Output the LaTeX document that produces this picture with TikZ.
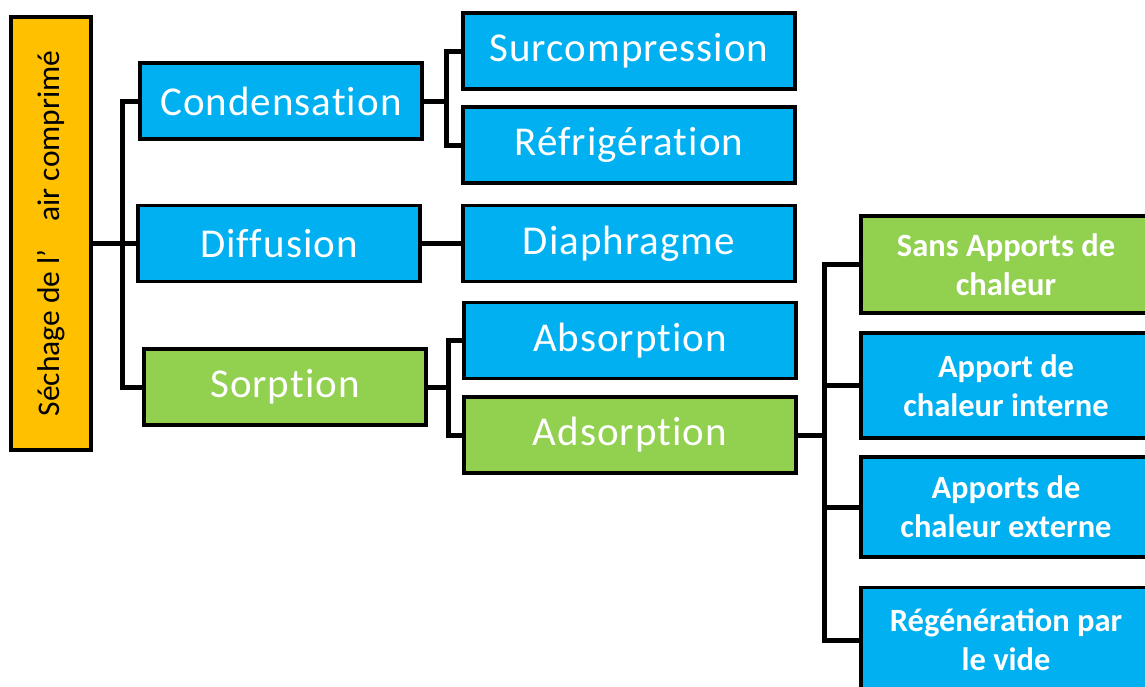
\documentclass[tikz,border=0pt]{standalone}
\usepackage{fontspec}
\setmainfont{Carlito}
\newfontfamily\wordart[LetterSpace=2.5, Ligatures=NoCommon]{Carlito}
\usetikzlibrary{positioning, calc}
\definecolor{skyblue}{HTML}{00B0F0}
\definecolor{leafgreen}{HTML}{92D050}
\definecolor{amber}{HTML}{FFC000}

\begin{document}
\begin{tikzpicture}[x=1pt, y=-1pt,
  box/.style={draw=black, line width=3.5pt, inner sep=0pt, text=white, align=center},
  bigbox/.style={box, minimum width=282pt, minimum height=76pt, font=\wordart\fontsize{41}{48}\selectfont},
  midbox/.style={box, minimum width=332pt, minimum height=76pt, font=\wordart\fontsize{41}{48}\selectfont},
  sidebox/.style={box, minimum width=290pt, font=\bfseries\fontsize{32.5}{39}\selectfont},
  link/.style={line width=5pt}]
\clip (0,0) rectangle (1145,686);
\fill[white] (0,0) rectangle (1145,686);

\node[box, fill=amber, text=black, minimum width=80pt, minimum height=433pt,
  font=\fontsize{31.5}{36}\selectfont] (root) at (51,233.5)
  {\rotatebox{90}{Séchage de l’\hspace{28pt}air comprimé}};

\node[bigbox, fill=skyblue] (cond) at (281,101) {Condensation};
\node[bigbox, fill=skyblue] (diff) at (279,243.5) {Diffusion};
\node[bigbox, fill=leafgreen] (sorp) at (285,387) {Sorption};

\node[midbox, fill=skyblue] (surc) at (629,51) {Surcompression};
\node[midbox, fill=skyblue] (refr) at (629,145) {Réfrigération};
\node[midbox, fill=skyblue] (diap) at (629,243.5) {Diaphragme};
\node[midbox, fill=skyblue] (abso) at (630,340.5) {Absorption};
\node[midbox, fill=leafgreen] (adso) at (630,435) {Adsorption};

\node[sidebox, fill=leafgreen, minimum height=97pt] (sans) at (1006,264.5) {Sans Apports de\\chaleur};
\node[sidebox, fill=skyblue, minimum height=105pt] (inte) at (1006,385.5) {Apport de\\chaleur interne};
\node[sidebox, fill=skyblue, minimum height=100pt] (exte) at (1006,507) {Apports de\\chaleur externe};
\node[sidebox, fill=skyblue, minimum height=105pt] (rege) at (1006,640) {Régénération par\\le vide};

\draw[link] (root.east |- diff.west) -- (diff.west);
\draw[link] (cond.west) -- ++(-16,0) |- (sorp.west);
\draw[link] (surc.west) -- ++(-15,0) coordinate (cbus) |- (refr.west);
\draw[link] (cond.east) -- (cond.east -| cbus);
\draw[link] (diff.east) -- (diap.west);
\draw[link] (abso.west) -- ++(-14,0) coordinate (sbus) |- (adso.west);
\draw[link] (sorp.east) -- (sorp.east -| sbus);
\draw[link] (sans.west) -- ++(-35,0) coordinate (abus) |- (rege.west);
\draw[link] (inte.west) -- (inte.west -| abus);
\draw[link] (exte.west) -- (exte.west -| abus);
\draw[link] (adso.east) -- (adso.east -| abus);
\end{tikzpicture}
\end{document}
